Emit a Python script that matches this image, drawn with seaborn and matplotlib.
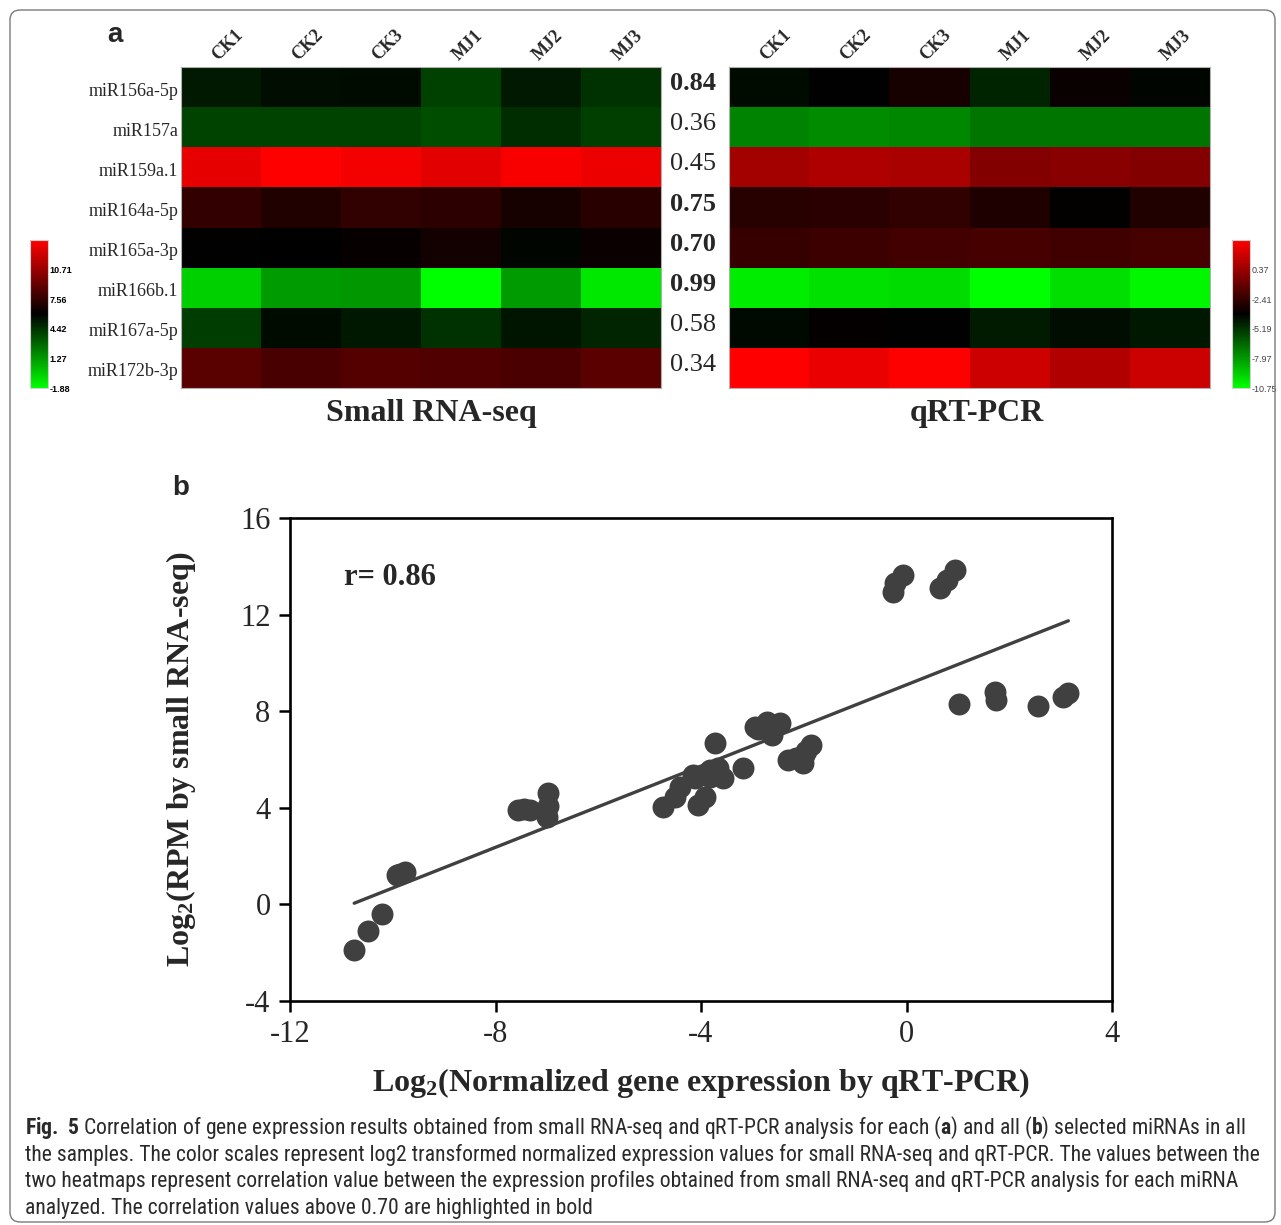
import numpy as np
import pandas as pd
import seaborn as sns
import matplotlib.pyplot as plt
from matplotlib import font_manager
from matplotlib.colors import LinearSegmentedColormap
from matplotlib.patches import FancyBboxPatch
from matplotlib.transforms import ScaledTranslation

# data
mirnas = ['miR156a-5p', 'miR157a', 'miR159a.1', 'miR164a-5p',
          'miR165a-3p', 'miR166b.1', 'miR167a-5p', 'miR172b-3p']
samples = ['CK1', 'CK2', 'CK3', 'MJ1', 'MJ2', 'MJ3']

# log2 RPM by small RNA-seq (rows = miRNAs, cols = samples)
rnaseq = [
    [5.22, 5.57, 5.64, 4.02, 5.22, 4.46],
    [3.91, 3.91, 3.95, 3.63, 4.60, 4.07],
    [13.09, 13.86, 13.43, 12.95, 13.64, 13.30],
    [7.57, 7.01, 7.50, 7.36, 6.67, 7.25],
    [5.98, 6.05, 6.20, 6.60, 5.84, 6.35],
    [-0.39, 1.22, 1.34, -1.88, 1.25, -1.10],
    [4.12, 5.64, 5.29, 4.46, 5.35, 4.87],
    [8.74, 8.23, 8.60, 8.46, 8.30, 8.81],
]
# log2 normalized expression by qRT-PCR
qpcr = [
    [-4.12, -3.82, -3.18, -4.73, -3.57, -3.92],
    [-7.33, -7.56, -7.45, -7.00, -6.97, -6.97],
    [0.65, 0.94, 0.78, -0.26, -0.06, -0.23],
    [-2.72, -2.62, -2.46, -2.95, -3.73, -2.90],
    [-2.30, -2.15, -2.00, -1.85, -2.01, -1.95],
    [-10.21, -9.92, -9.76, -10.75, -9.85, -10.48],
    [-4.05, -3.66, -3.82, -4.51, -4.15, -4.41],
    [3.15, 2.56, 3.05, 1.75, 1.02, 1.72],
]
corr = [0.84, 0.36, 0.45, 0.75, 0.70, 0.99, 0.58, 0.34]
r_all = 0.86

caption = [
    r"$\mathbf{Fig.}$ $\mathbf{5}$ Correlation of gene expression results obtained from small RNA-seq and qRT-PCR analysis for each ($\mathbf{a}$) and all ($\mathbf{b}$) selected miRNAs in all",
    "the samples. The color scales represent log2 transformed normalized expression values for small RNA-seq and qRT-PCR. The values between the",
    "two heatmaps represent correlation value between the expression profiles obtained from small RNA-seq and qRT-PCR analysis for each miRNA",
    "analyzed. The correlation values above 0.70 are highlighted in bold",
]


def pick_family(cands):
    # first candidate that has both a regular and a bold face installed
    faces = {}
    for f in font_manager.fontManager.ttflist:
        faces.setdefault(f.name, set()).add(f.weight)
    for c in cands:
        ws = faces.get(c, set())
        if any(w in (700, 'bold') for w in ws) and any(w in (400, 'normal', 'regular') for w in ws):
            return c
    return 'DejaVu Sans'


cap_font = pick_family(['Roboto Condensed', 'Liberation Sans Narrow', 'Open Sans Condensed',
                        'Roboto', 'Open Sans', 'Noto Sans', 'Lato', 'Liberation Sans'])

sns.set_style('ticks')
plt.rcParams['font.family'] = ['Liberation Serif', 'DejaVu Serif']
plt.rcParams['axes.unicode_minus'] = False
plt.rcParams['mathtext.fontset'] = 'custom'
plt.rcParams['mathtext.default'] = 'regular'
plt.rcParams['mathtext.bf'] = cap_font + ':bold'
plt.rcParams['mathtext.rm'] = cap_font

W, H = 1281, 1225
def box(x0, y0, x1, y1):
    return [x0 / W, 1 - y1 / H, (x1 - x0) / W, (y1 - y0) / H]

fig = plt.figure(figsize=(W / 100, H / 100), dpi=100)
fig.patches.append(FancyBboxPatch((10 / W, 3 / H), 1265 / W, 1212 / H,
                                  boxstyle='round,pad=0,rounding_size=0.008',
                                  transform=fig.transFigure, fill=False,
                                  ec='#7a7a7a', lw=1.0))

cmap = LinearSegmentedColormap.from_list('gkr', ['#00ff00', '#000000', '#ff0000'])

df_rna = pd.DataFrame(rnaseq, index=mirnas, columns=samples)
df_pcr = pd.DataFrame(qpcr, index=mirnas, columns=samples)

ax_rna = fig.add_axes(box(181, 67, 661, 388))
ax_pcr = fig.add_axes(box(729, 67, 1210, 388))
cax_rna = fig.add_axes(box(30, 240, 48, 388))
cax_pcr = fig.add_axes(box(1232, 240, 1250, 388))

for ax, cax, df, lab_col, lab_w in [(ax_rna, cax_rna, df_rna, 'black', 'bold'),
                                    (ax_pcr, cax_pcr, df_pcr, '#444444', 'normal')]:
    lo, hi = df.values.min(), df.values.max()
    sns.heatmap(df, ax=ax, cmap=cmap, vmin=lo, vmax=hi, cbar_ax=cax,
                linewidths=0)
    ax.xaxis.tick_top()
    ax.set_xticklabels(samples, rotation=45, ha='left', va='bottom',
                       rotation_mode='anchor', fontsize=13, weight='bold')
    ax.tick_params(length=0, pad=2)
    ax.set_xlabel('')
    ax.set_ylabel('')
    for s in ax.spines.values():
        s.set_visible(True)
        s.set_edgecolor('#b0b0b0')
        s.set_linewidth(0.8)
    cb = ax.collections[0].colorbar
    ticks = np.linspace(lo, hi, 6)[:-1]
    cb.set_ticks(ticks)
    cb.set_ticklabels(['%.2f' % t for t in ticks])
    cb.ax.tick_params(length=0, pad=1, labelsize=6.5, labelcolor=lab_col)
    for t in cb.ax.get_yticklabels():
        t.set_family('Liberation Sans')
        t.set_weight(lab_w)
    cb.outline.set_edgecolor('#d0d0d0')
    cb.outline.set_linewidth(0.8)

ax_rna.set_yticklabels(mirnas, rotation=0, fontsize=13)
shift = ScaledTranslation(0, -0.04, fig.dpi_scale_trans)
for lbl in ax_rna.get_yticklabels():
    lbl.set_transform(lbl.get_transform() + shift)
ax_pcr.set_yticks([])

for i, c in enumerate(corr):
    ax_rna.text(6.4, i + 0.42, '%.2f' % c, ha='center', va='center', fontsize=19,
                weight='bold' if c >= 0.70 else 'normal', clip_on=False)

fig.text(431 / W, 1 - 413 / H, 'Small RNA-seq', ha='center', va='center',
         fontsize=23, weight='bold')
fig.text(977 / W, 1 - 413 / H, 'qRT-PCR', ha='center', va='center',
         fontsize=23, weight='bold')
fig.text(115 / W, 1 - 35 / H, 'a', ha='center', va='center', fontsize=20,
         weight='bold', family='Liberation Sans')
fig.text(181 / W, 1 - 488 / H, 'b', ha='center', va='center', fontsize=20,
         weight='bold', family='Liberation Sans')

# scatter panel
ax_sc = fig.add_axes(box(290, 518, 1112, 1001))
x_all = np.ravel(qpcr)
y_all = np.ravel(rnaseq)
sns.regplot(x=x_all, y=y_all, ax=ax_sc, ci=None,
            scatter_kws=dict(s=250, color='#404040', alpha=1, linewidths=0),
            line_kws=dict(color='#404040', lw=2.4))
ax_sc.set_xlim(-12, 4)
ax_sc.set_ylim(-4, 16)
ax_sc.set_xticks([-12, -8, -4, 0, 4])
ax_sc.set_yticks([-4, 0, 4, 8, 12, 16])
ax_sc.tick_params(labelsize=22, length=8, width=1.8, direction='out',
                  color='black', pad=6)
for s in ax_sc.spines.values():
    s.set_linewidth(1.9)
    s.set_color('black')
ax_sc.set_xlabel('Log$_2$(Normalized gene expression by qRT-PCR)',
                 fontsize=23, weight='bold', labelpad=12)
ax_sc.set_ylabel('Log$_2$(RPM by small RNA-seq)', fontsize=23,
                 weight='bold', labelpad=30)
ax_sc.text(-10.95, 13.55, 'r= %.2f' % r_all, ha='left', va='center',
           fontsize=22, weight='bold')

# caption, sized so the first line spans the box like the original
renderer = fig.canvas.get_renderer()
cap_texts = []
for k, line in enumerate(caption):
    cap_texts.append(fig.text(25 / W, 1 - (1128 + 26.7 * k) / H, line, ha='left',
                              va='center', fontsize=12, family=cap_font,
                              color='#2a2a2a'))
w0 = cap_texts[0].get_window_extent(renderer).width
size = 12 * 1220 / w0
for t in cap_texts:
    t.set_fontsize(size)

fig.savefig('out.png', dpi=100)
